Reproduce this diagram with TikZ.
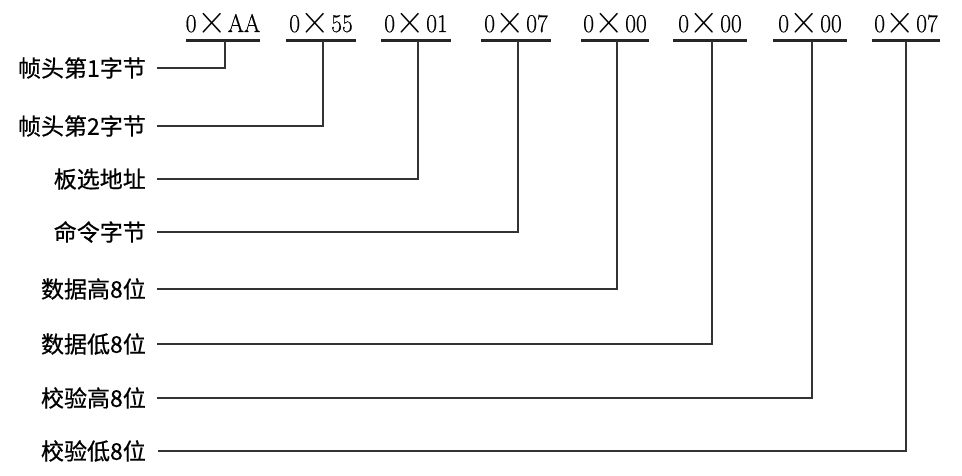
\documentclass[tikz,border=0pt]{standalone}
\usepackage{fontspec}
\newfontfamily\cjk[FakeBold=0.6]{Noto Sans CJK SC}
\newfontfamily\hexf[FakeBold=0.5]{Latin Modern Roman}
\newcommand{\hexv}[1]{\scalebox{0.92}[1]{0\kern1pt\smash{\raisebox{-1.5pt}{\scalebox{1.65}{$\times$}}}\kern1pt#1}}
\begin{document}
\begin{tikzpicture}[x=1pt,y=1pt,
  hexlab/.style={anchor=south, inner xsep=0pt, inner ysep=0pt, text depth=0pt,
    minimum width=70pt, text height=16pt},
  hextext/.style={anchor=base, inner sep=0pt, font=\hexf\fontsize{25.5}{28}\selectfont},
  rowlab/.style={anchor=east, inner xsep=11pt, inner ysep=0pt,
    font=\cjk\fontsize{23}{26}\selectfont},
  ul/.style={line width=3pt, draw=black!85},
  conn/.style={line width=1.7pt, draw=black!80}]
\useasboundingbox (0,0) rectangle (962,-476);
% hex values (underline sits at node south, y = -41)
\def\hy{-41}
\node[hexlab, minimum width=74pt] (h1) at (223,\hy) {};
\node[hexlab] (h2) at (321,\hy) {};
\node[hexlab] (h3) at (416,\hy) {};
\node[hexlab] (h4) at (516,\hy) {};
\node[hexlab, minimum width=68pt] (h5) at (615,\hy) {};
\node[hexlab, minimum width=74pt] (h6) at (710,\hy) {};
\node[hexlab, minimum width=74pt] (h7) at (810,\hy) {};
\node[hexlab, minimum width=68pt] (h8) at (906,\hy) {};
\foreach \n/\t in {h1/AA,h2/55,h3/01,h4/07,h5/00,h6/00,h7/00,h8/07}{
  \node[hextext] at ([yshift=9pt]\n.south) {\hexv{\t}};
  \draw[ul] (\n.south west) -- (\n.south east);
}
% row labels
\node[rowlab] (l1) at (157,-68) {帧头第1字节};
\node[rowlab] (l2) at (157,-126) {帧头第2字节};
\node[rowlab] (l3) at (157,-179) {板选地址};
\node[rowlab] (l4) at (157,-232) {命令字节};
\node[rowlab] (l5) at (157,-289) {数据高8位};
\node[rowlab] (l6) at (157,-344) {数据低8位};
\node[rowlab] (l7) at (157,-398) {校验高8位};
\node[rowlab, inner xsep=0pt] (l8a) at (146,-451) {校验低8位};
\coordinate (l8) at (158,-451);
% connectors
\foreach \i in {1,...,7}{
  \draw[conn] (l\i.east) -| ([xshift=2pt]h\i.south);
}
\draw[conn] (l8) -| (h8.south);
\end{tikzpicture}
\end{document}
